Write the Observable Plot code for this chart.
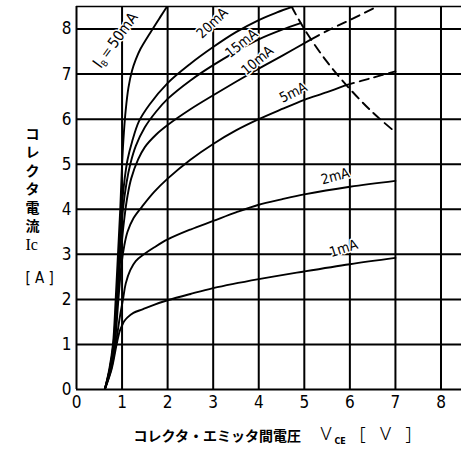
<!DOCTYPE html>
<html>
<head>
<meta charset="utf-8">
<script src="https://cdn.jsdelivr.net/npm/d3@7"></script>
<script src="https://cdn.jsdelivr.net/npm/@observablehq/plot@0.6"></script>
<style>
  html, body { margin: 0; padding: 0; background: #fff; }
  #chart svg { display: block; }
  #chart svg .cond { font-stretch: condensed; }
</style>
</head>
<body>
<div id="chart"></div>
<script>
// ---- data ----
const xTicks = [0, 1, 2, 3, 4, 5, 6, 7, 8];
const yTicks = [0, 1, 2, 3, 4, 5, 6, 7, 8];
const xMax = 8.45;
const yMax = 8.5;

// collector characteristic curves: [Vce (V), Ic (A)]
const ib50 = [[0.62,0],[0.72,0.45],[0.8,1],[0.86,2],[0.91,3],[0.96,4],[1.0,5],[1.04,5.7],[1.08,6.2],[1.14,6.7],[1.22,7.08],[1.3,7.32],[1.4,7.55],[1.62,7.92],[1.84,8.27],[2.02,8.55]];
const ib20 = [[0.62,0],[0.73,0.45],[0.81,1],[0.88,2],[0.93,3],[0.99,4],[1.06,4.7],[1.12,5.1],[1.22,5.5],[1.37,5.95],[1.6,6.32],[2,6.8],[2.5,7.23],[3,7.6],[3.5,7.93],[4,8.2],[4.4,8.37],[4.75,8.5]];
const ib15 = [[0.62,0],[0.73,0.45],[0.82,1],[0.89,2],[0.95,3],[1.02,4],[1.1,4.6],[1.18,5.0],[1.3,5.4],[1.5,5.82],[1.75,6.17],[2,6.45],[2.5,6.86],[3,7.2],[3.5,7.5],[4,7.77],[4.5,7.98],[4.92,8.13]];
const ib10 = [[0.62,0],[0.74,0.45],[0.83,1],[0.9,2],[0.97,3],[1.05,3.8],[1.12,4.3],[1.2,4.68],[1.35,5.1],[1.5,5.38],[1.75,5.66],[2,5.87],[2.5,6.22],[3,6.53],[3.5,6.83],[4,7.12],[4.5,7.4],[5.15,7.77]];
const ib10Dash = [[5.15,7.77],[5.5,7.96],[6,8.2],[6.6,8.5]];
const ib5 = [[0.62,0],[0.75,0.45],[0.84,1],[0.92,2],[0.99,2.8],[1.05,3.2],[1.12,3.5],[1.25,3.8],[1.44,4.06],[1.7,4.38],[2,4.68],[2.5,5.1],[3,5.45],[3.5,5.75],[4,6.0],[4.5,6.22],[5,6.43],[5.5,6.6],[5.9,6.75]];
const ib5Dash = [[5.9,6.75],[6.5,6.92],[7,7.06]];
const ib2 = [[0.62,0],[0.76,0.45],[0.86,1],[0.95,1.6],[1.02,2.0],[1.08,2.35],[1.18,2.65],[1.3,2.85],[1.48,3.0],[1.7,3.15],[2,3.33],[2.5,3.55],[3,3.74],[3.5,3.93],[4,4.1],[4.5,4.22],[5,4.33],[6,4.5],[7,4.63]];
const ib1 = [[0.62,0],[0.77,0.45],[0.88,1],[0.95,1.3],[1.0,1.42],[1.05,1.52],[1.12,1.6],[1.25,1.7],[1.45,1.78],[1.7,1.88],[2,1.98],[2.5,2.12],[3,2.25],[4,2.45],[5,2.62],[6,2.78],[7,2.92]];
// maximum collector dissipation boundary (dashed)
const pcMax = [[4.72,8.5],[5,8.0],[5.5,7.27],[6,6.67],[6.5,6.15],[7,5.71]];

// curve labels: text, Vce, Ic, rotation, size
const labelText = ["IB=50mA", "20mA", "15mA", "10mA", "5mA", "2mA", "1mA"];
const labelX = [0.86, 2.98, 3.62, 3.97, 4.76, 5.68, 5.86];
const labelY = [7.75, 8.13, 7.68, 7.3, 6.59, 4.73, 3.13];
const labelRot = [-54, -44, -39, -40, -27, -15, -18];
const labelSize = [15, 14, 14, 14, 14, 14, 14];

const xTitle = "コレクタ・エミッタ間電圧";
const xSym = "V";
const xSub = "CE";
const xUnit = "[\u2002 V\u2002 ]";
const yTitle = "コ\nレ\nク\nタ\n電\n流";
const ySym = "Ic";
const yUnit = "[ A ]";

// ---- build tables ----
const toRows = (arr, id) => arr.map(([x, y]) => ({x, y, id}));
const solid = [
  ...toRows(ib50, "50"), ...toRows(ib20, "20"), ...toRows(ib15, "15"),
  ...toRows(ib10, "10"), ...toRows(ib5, "5"), ...toRows(ib2, "2"), ...toRows(ib1, "1")
];
const dashed = [
  ...toRows(ib10Dash, "10"), ...toRows(ib5Dash, "5"), ...toRows(pcMax, "pc")
];
const labels = labelText.map((t, i) => ({t, x: labelX[i], y: labelY[i], r: labelRot[i], s: labelSize[i]}));

const numFont = "'DejaVu Sans Condensed', 'DejaVu Sans', sans-serif";
const jpFont = "'Noto Sans CJK JP', sans-serif";

const chart = Plot.plot({
  width: 461,
  height: 457,
  marginLeft: 76,
  marginRight: 0,
  marginTop: 6,
  marginBottom: 68,
  style: {background: "#fff", color: "#000", fontFamily: numFont},
  x: {domain: [0, xMax]},
  y: {domain: [0, yMax]},
  marks: [
    Plot.ruleX(xTicks, {stroke: "#000", strokeWidth: 2}),
    Plot.ruleY(yTicks, {stroke: "#000", strokeWidth: 2}),
    Plot.ruleY([yMax], {stroke: "#000", strokeWidth: 1.5}),
    Plot.line(solid, {x: "x", y: "y", z: "id", stroke: "#000", strokeWidth: 1.9, curve: "catmull-rom", clip: true}),
    Plot.line(dashed, {x: "x", y: "y", z: "id", stroke: "#000", strokeWidth: 1.9, strokeDasharray: "9,6", curve: "catmull-rom", clip: true}),
    Plot.axisX(xTicks, {tickSize: 0, tickPadding: 6, fontSize: 17, label: null, fontFamily: numFont, className: "cond"}),
    Plot.axisY(yTicks, {tickSize: 0, tickPadding: 5, fontSize: 17, label: null, fontFamily: numFont, className: "cond"}),
    Plot.text(labels, {x: "x", y: "y", text: "t", rotate: "r", fontSize: "s", fill: "#000", stroke: "#fff", strokeWidth: 3, paintOrder: "stroke", fontFamily: numFont, className: "cond"}),
    Plot.text([yTitle], {frameAnchor: "left", dx: -51, dy: -19, text: d => d, fontSize: 14, lineHeight: 1.32, fontWeight: "bold", fontFamily: jpFont, fill: "#000"}),
    Plot.text([ySym], {frameAnchor: "left", dx: -51, dy: 47, text: d => d, fontSize: 16, fontFamily: "'Liberation Serif', serif", fill: "#000"}),
    Plot.text([yUnit], {frameAnchor: "left", dx: -51, dy: 80, text: d => d, fontSize: 15, fontFamily: numFont, fill: "#000"}),
    Plot.text([xTitle], {frameAnchor: "bottom-left", dx: 57, dy: 51, textAnchor: "start", text: d => d, fontSize: 14, fontWeight: "bold", fontFamily: jpFont, fill: "#000"}),
    Plot.text([xSym], {frameAnchor: "bottom-left", dx: 244, dy: 50, textAnchor: "start", text: d => d, fontSize: 19, fontFamily: "'Noto Sans', sans-serif", fontWeight: 300, fill: "#000"}),
    Plot.text([xSub], {frameAnchor: "bottom-left", dx: 258, dy: 54, textAnchor: "start", text: d => d, fontSize: 8, fontWeight: "bold", fontFamily: "'DejaVu Sans', sans-serif", fill: "#000"}),
    Plot.text([xUnit], {frameAnchor: "bottom-left", dx: 283, dy: 50, textAnchor: "start", text: d => d, fontSize: 19, fontFamily: "'Noto Sans', sans-serif", fontWeight: 300, fill: "#000"})
  ]
});

// subscript B in the IB label
chart.querySelectorAll("text").forEach(t => {
  if (t.textContent === "IB=50mA") {
    t.textContent = "";
    const ns = "http://www.w3.org/2000/svg";
    const a = document.createElementNS(ns, "tspan"); a.textContent = "I"; a.setAttribute("font-size", "16");
    const b = document.createElementNS(ns, "tspan"); b.textContent = "B"; b.setAttribute("font-size", "9"); b.setAttribute("dy", "3");
    const c = document.createElementNS(ns, "tspan"); c.textContent = "＝50mA"; c.setAttribute("dy", "-3");
    t.append(a, b, c);
  }
});

document.getElementById("chart").append(chart);
</script>
</body>
</html>
